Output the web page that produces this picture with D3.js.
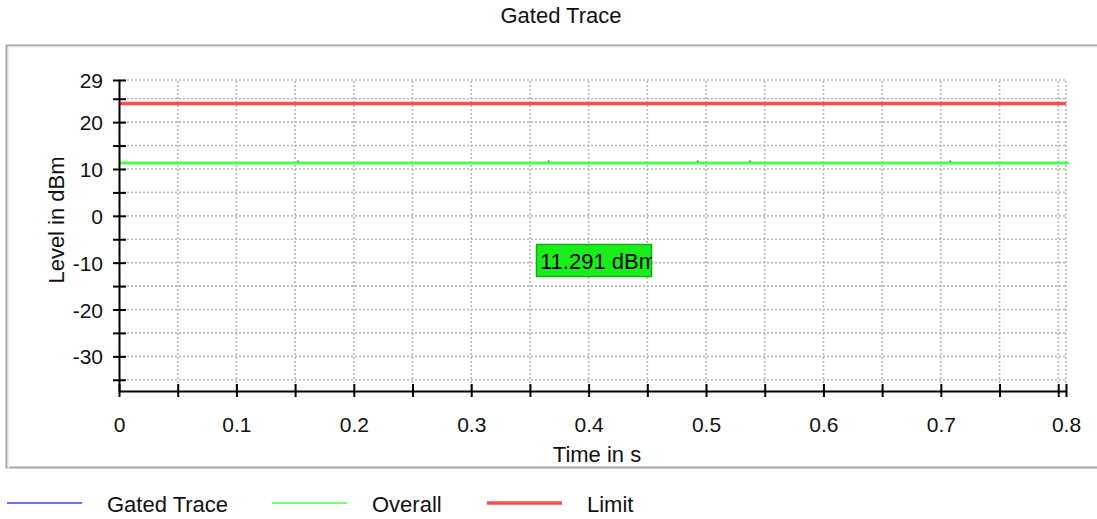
<!DOCTYPE html>
<html>
<head>
<meta charset="utf-8">
<script src="https://cdn.jsdelivr.net/npm/d3@7"></script>
<style>
  body { margin: 0; background: #fff; }
  svg { font-family: "Liberation Sans", Arial, sans-serif; }
  .grid line { stroke: #b8b8b8; stroke-width: 1.6; stroke-dasharray: 2,2; }
  .axis path, .axis line { stroke: #000; stroke-width: 2; }
  .axis text { font-size: 21px; fill: #111; }
</style>
</head>
<body>
<script>
// Chart data
var timeDomain = [0, 0.8066];          // s, axis end
var levelDomain = [-37.4, 29];          // dBm

var xTicks = [0, 0.05, 0.1, 0.15, 0.2, 0.25, 0.3, 0.35, 0.4, 0.45, 0.5, 0.55, 0.6, 0.65, 0.7, 0.75, 0.8, 0.8066];
var xTickLabels = ["0", "", "0.1", "", "0.2", "", "0.3", "", "0.4", "", "0.5", "", "0.6", "", "0.7", "", "", "0.8"];
var yTicks = [29, 25, 20, 15, 10, 5, 0, -5, -10, -15, -20, -25, -30, -35];
var yTickLabels = ["29", "", "20", "", "10", "", "0", "", "-10", "", "-20", "", "-30", ""];

// Gated trace, sits on the overall level with a few small spikes
var gatedTime  = [0, 0.1515, 0.1525, 0.1535, 0.365, 0.366, 0.367, 0.492, 0.493, 0.494, 0.5365, 0.5375, 0.5385, 0.707, 0.708, 0.709, 0.8066];
var gatedLevel = [11.29, 11.29, 11.65, 11.29, 11.29, 11.65, 11.29, 11.29, 11.65, 11.29, 11.29, 11.65, 11.29, 11.29, 11.65, 11.29, 11.29];

var overallTime  = [0, 0.809];
var overallLevel = [11.291, 11.291];

var limitTime  = [0, 0.8066];
var limitLevel = [24, 24];

var markerText = "11.291 dBm";

var legendNames  = ["Gated Trace", "Overall", "Limit"];
var legendColors = ["#3c3cff", "#4cff4c", "#ff4c4c"];

window.onload = drawChart();

function drawChart() {
    var width = 1097, height = 519;

    var svg = d3.select("body")
        .append("svg")
        .attr("width", width)
        .attr("height", height);

    // frame around the plot area (right edge runs off the picture)
    svg.append("rect")
        .attr("x", 6.5).attr("y", 45.5)
        .attr("width", 1100).attr("height", 422)
        .attr("fill", "#fff")
        .attr("stroke", "#a6a6a6")
        .attr("stroke-width", 2);
    svg.append("path")
        .attr("d", "M8.5,468 V47 H1097")
        .attr("fill", "none")
        .attr("stroke", "#efefef")
        .attr("stroke-width", 1.5);

    svg.append("text")
        .attr("x", 561).attr("y", 23)
        .attr("text-anchor", "middle")
        .attr("font-size", 22)
        .attr("fill", "#111")
        .text("Gated Trace");

    var x = d3.scaleLinear().domain(timeDomain).range([119, 1066]);
    var y = d3.scaleLinear().domain(levelDomain).range([391, 80]);

    // dotted grid
    var grid = svg.append("g").attr("class", "grid");
    grid.selectAll(".h")
        .data(yTicks)
        .enter().append("line")
        .attr("x1", x(timeDomain[0])).attr("x2", x(timeDomain[1]))
        .attr("y1", function(d) { return y(d); })
        .attr("y2", function(d) { return y(d); });
    grid.selectAll(".v")
        .data(xTicks.slice(1))
        .enter().append("line")
        .attr("y1", y(levelDomain[0])).attr("y2", y(levelDomain[1]))
        .attr("x1", function(d) { return x(d); })
        .attr("x2", function(d) { return x(d); });

    // series
    var line = d3.line()
        .x(function(d) { return x(d[0]); })
        .y(function(d) { return y(d[1]); });

    svg.append("path")
        .datum(d3.zip(limitTime, limitLevel))
        .attr("d", line)
        .attr("fill", "none")
        .attr("stroke", legendColors[2])
        .attr("stroke-width", 3.5);

    svg.append("path")
        .datum(d3.zip(gatedTime, gatedLevel))
        .attr("d", line)
        .attr("fill", "none")
        .attr("stroke", legendColors[0])
        .attr("stroke-width", 1.5);

    svg.append("path")
        .datum(d3.zip(overallTime, overallLevel))
        .attr("d", line)
        .attr("fill", "none")
        .attr("stroke", legendColors[1])
        .attr("stroke-width", 3);

    // axes, ticks cross the axis line on both sides
    var yAxis = svg.append("g")
        .attr("class", "axis")
        .attr("transform", "translate(119,0)")
        .call(d3.axisLeft(y)
            .tickValues(yTicks)
            .tickSizeOuter(0)
            .tickSizeInner(6)
            .tickPadding(10)
            .tickFormat(function(d, i) { return yTickLabels[i]; }));
    yAxis.selectAll(".tick line").attr("x1", 7).attr("x2", -6);
    yAxis.selectAll(".tick text").attr("dy", "0.36em");

    var xAxis = svg.append("g")
        .attr("class", "axis")
        .attr("transform", "translate(0,391)")
        .call(d3.axisBottom(x)
            .tickValues(xTicks)
            .tickSizeOuter(0)
            .tickSizeInner(6)
            .tickPadding(20)
            .tickFormat(function(d, i) { return xTickLabels[i]; }));
    xAxis.selectAll(".tick line").attr("y1", -7).attr("y2", 6);

    svg.append("text")
        .attr("x", 597).attr("y", 462)
        .attr("text-anchor", "middle")
        .attr("font-size", 22)
        .attr("fill", "#111")
        .text("Time in s");

    svg.append("text")
        .attr("transform", "translate(64,220) rotate(-90)")
        .attr("text-anchor", "middle")
        .attr("font-size", 22)
        .attr("fill", "#111")
        .text("Level in dBm");

    // marker readout box
    svg.append("clipPath").attr("id", "boxclip")
        .append("rect")
        .attr("x", 536).attr("y", 244).attr("width", 116).attr("height", 33);
    svg.append("rect")
        .attr("x", 536.5).attr("y", 244.5).attr("width", 115).attr("height", 32)
        .attr("fill", "#1aee1a")
        .attr("stroke", "#11b011")
        .attr("stroke-width", 1.5);
    svg.append("text")
        .attr("x", 540).attr("y", 269)
        .attr("font-size", 22)
        .attr("fill", "#000")
        .attr("clip-path", "url(#boxclip)")
        .text(markerText);

    // legend
    var legendX = [7, 272, 487];
    var legend = svg.selectAll(".legend")
        .data(legendNames)
        .enter().append("g")
        .attr("transform", function(d, i) { return "translate(" + legendX[i] + ",503)"; });
    legend.append("line")
        .attr("x1", 0).attr("x2", 75)
        .attr("stroke", function(d, i) { return legendColors[i]; })
        .attr("stroke-width", function(d, i) { return i == 2 ? 3.5 : 1.5; });
    legend.append("text")
        .attr("x", 100).attr("y", 8.5)
        .attr("font-size", 22)
        .attr("fill", "#111")
        .text(function(d) { return d; });
}
</script>
</body>
</html>
